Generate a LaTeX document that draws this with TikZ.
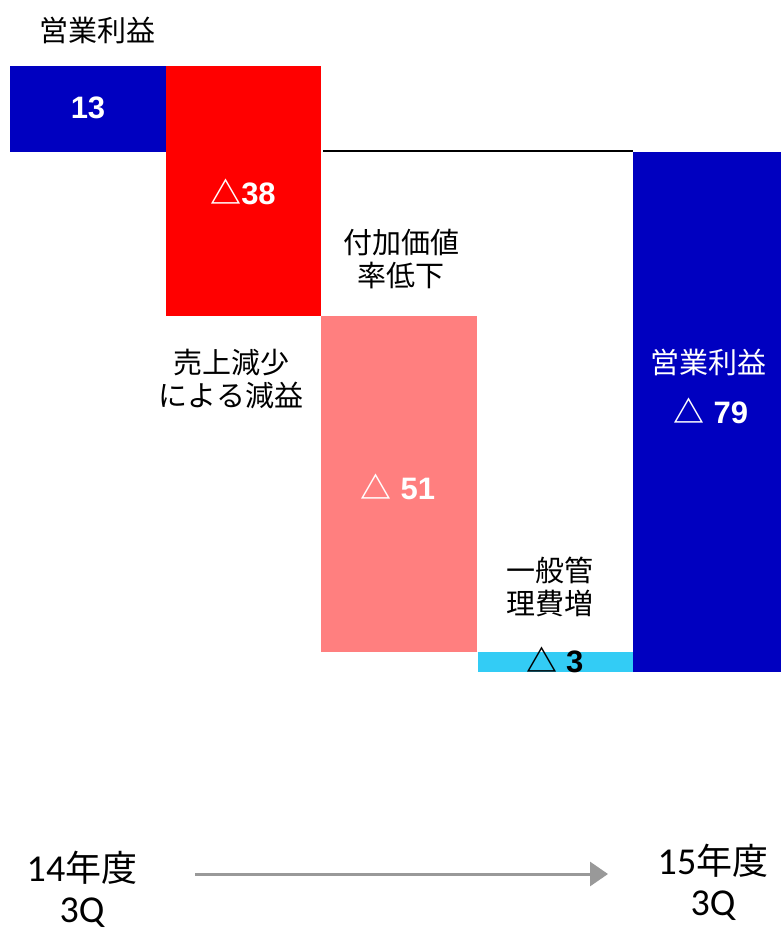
\documentclass[tikz,border=0pt]{standalone}
\usepackage{fontspec}
\setmainfont{Liberation Sans}
\newfontfamily\jp{Noto Sans CJK JP}
\newfontfamily\carl{Carlito}
\usetikzlibrary{arrows.meta}
\definecolor{dblue}{HTML}{0000C0}
\definecolor{bred}{HTML}{FF0000}
\definecolor{bpink}{HTML}{FF7F7F}
\definecolor{bcyan}{HTML}{33CCF5}
\definecolor{agray}{HTML}{999999}
\begin{document}
\begin{tikzpicture}[x=1pt,y=-1pt,
  lbl/.style={font=\jp\fontsize{29}{33}\selectfont, align=center, inner sep=0pt},
  val/.style={font=\fontsize{31}{34}\selectfont\bfseries, inner sep=0pt},
  yr/.style={font=\carl\fontsize{38}{41}\selectfont, align=center, inner sep=0pt}]
\useasboundingbox (0,0) rectangle (781,930);
\fill[white] (0,0) rectangle (781,930);
% bars
\fill[dblue] (10,66) rectangle (166,152);
\fill[bred] (166,66) rectangle (321,316);
\fill[bpink] (321,316) rectangle (477,652);
\fill[bcyan] (478,652) rectangle (633,672);
\fill[dblue] (633,152) rectangle (781,672);
\draw[line width=2.5pt] (323,151) -- (633,151);
% labels
\node[lbl] (t1) at (97,30) {営業利益};
\node[val, white] (v1) at (88,108) {13};
\node[val, white] (v2) at (243,192) {{\jp △}38};
\node[lbl] (t2) at (401,259) {付加価値\\率低下};
\node[lbl] (t3) at (231,379) {売上減少\\による減益};
\node[val, white] (v3) at (398,487) {{\jp △} 51};
\node[lbl] (t4) at (550,587) {一般管\\理費増};
\node[val, black] (v4) at (555,660) {{\jp △} 3};
\node[lbl, white] (t5) at (708,362) {営業利益};
\node[val, white] (v5) at (711,411) {{\jp △} 79};
% bottom
\node[yr] (y1) at (82,889) {14{\jp\fontsize{36}{41}\selectfont 年度}\\3Q};
\node[yr] (y2) at (713,882) {15{\jp\fontsize{36}{41}\selectfont 年度}\\3Q};
\coordinate (a1) at (195,874);
\coordinate (a2) at (608,874);
\draw[agray, line width=3pt, -{Triangle[length=18pt,width=24pt]}] (a1) -- (a2);
\end{tikzpicture}
\end{document}
